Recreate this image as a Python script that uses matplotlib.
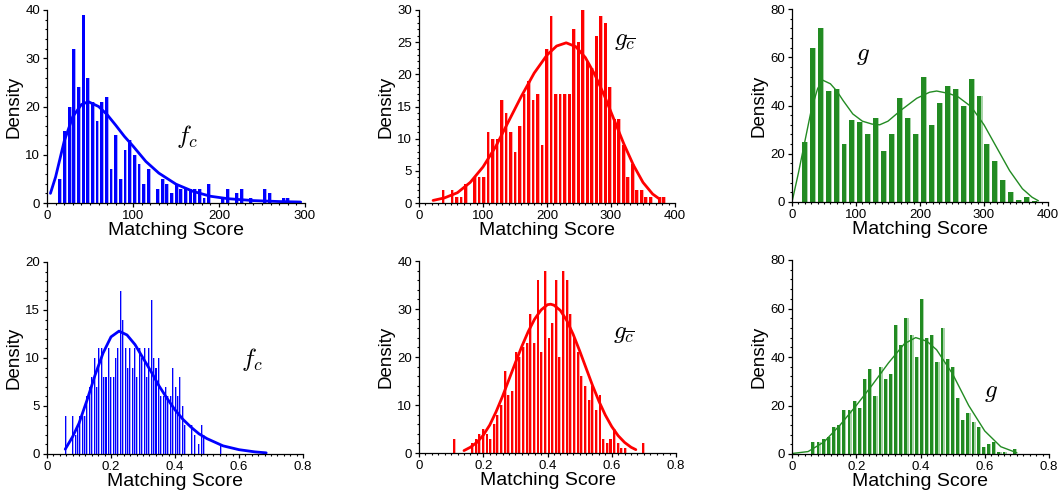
import numpy as np
import matplotlib.pyplot as plt
from matplotlib.ticker import MultipleLocator

plt.rcParams["font.family"] = ["Liberation Sans", "DejaVu Sans"]
plt.rcParams["mathtext.fontset"] = "cm"

# --- top row: raw matching scores -------------------------------------
# histogram counts, bins given as (first edge, bin width)
fc_raw_bin0, fc_raw_binw = 12.8, 5.41
fc_raw_counts = [5, 15, 20, 32, 24, 39, 26, 21, 17, 21,
                 22, 7, 14, 5, 11, 13, 10, 8, 4, 7,
                 0, 3, 5, 4, 2, 4, 3, 3, 3, 3,
                 3, 1, 4, 0, 0, 1, 3, 0, 2, 3,
                 0, 1, 0, 0, 3, 2, 0, 0, 1, 1]
fc_raw_fit_x = [4, 10, 20, 30, 40, 48, 60, 70, 80, 90, 100, 115, 130, 150,
                170, 190, 210, 240, 270, 295]
fc_raw_fit_y = [2.0, 5.4, 12.8, 17.9, 20.4, 21.0, 20.0, 18.3, 16.1, 13.8,
                11.8, 8.6, 6.2, 3.9, 2.4, 1.4, 0.9, 0.5, 0.3, 0.2]

gc_raw_bin0, gc_raw_binw = 34.5, 7.046
gc_raw_counts = [2, 0, 2, 1, 1, 3, 0, 4, 4, 4,
                 11, 10, 10, 16, 14, 11, 8, 12, 17, 19,
                 16, 17, 9, 24, 29, 17, 17, 17, 17, 27,
                 25, 30, 22, 21, 26, 29, 28, 18, 13, 13,
                 9, 4, 6, 2, 2, 1, 1, 0, 1, 1]
gc_raw_fit_x = [22, 40, 60, 80, 100, 120, 140, 160, 180, 200, 215, 230,
                245, 260, 275, 290, 305, 320, 335, 350, 365, 376]
gc_raw_fit_y = [0.4, 0.8, 1.6, 3.2, 5.6, 8.8, 12.7, 16.6, 20.2, 23.0, 24.4,
                24.9, 24.3, 22.6, 19.9, 16.6, 12.9, 9.2, 5.9, 3.2, 1.4, 0.6]

g_raw_bin0, g_raw_binw = 14.1, 12.41
g_raw_counts = [25, 64, 72, 46, 47, 24, 34, 33, 28, 35,
                21, 28, 43, 35, 28, 52, 32, 41, 48, 47,
                40, 51, 44, 24, 17, 9, 4, 1, 2, 0.5]
g_raw_fit_x = [0, 10, 20, 30, 40, 48, 60, 70, 80, 95, 110, 125, 137, 150,
               170, 195, 215, 226, 245, 260, 280, 300, 320, 340, 360, 375, 385]
g_raw_fit_y = [0, 12, 25, 38, 47, 50.5, 49, 46, 42, 36.5, 33.5, 32.3, 32,
               33.5, 38, 43, 45.5, 46, 45, 43.5, 39.5, 32, 22.5, 13, 5.5, 2, 0.5]

# --- bottom row: normalised matching scores ----------------------------
fc_norm_bin0, fc_norm_binw = 0.0555, 0.00744
fc_norm_counts = [4, 0, 0, 4, 2, 3, 4, 4, 4, 6,
                  7, 8, 10, 7, 11, 11, 8, 8, 11, 8,
                  8, 10, 11, 17, 14, 11, 9, 11, 9, 11,
                  8, 11, 10, 11, 8, 11, 16, 10, 9, 10,
                  6, 6, 7, 6, 6, 9, 7, 6, 8, 5,
                  3, 0, 0, 3, 2, 0, 1, 3, 2, 0,
                  0, 0, 0, 0, 0, 1]
fc_norm_fit_x = [0.057, 0.08, 0.1, 0.125, 0.15, 0.175, 0.2, 0.225, 0.25,
                 0.275, 0.3, 0.325, 0.35, 0.375, 0.4, 0.425, 0.45, 0.475,
                 0.5, 0.55, 0.6, 0.65, 0.685]
fc_norm_fit_y = [0.5, 1.8, 3.2, 5.6, 8.2, 10.5, 12.2, 12.8, 12.4, 11.4, 10.0,
                 8.6, 7.1, 5.8, 4.6, 3.6, 2.8, 2.1, 1.6, 0.85, 0.45, 0.22, 0.12]

gc_norm_bin0, gc_norm_binw = 0.1038, 0.01135
gc_norm_counts = [3, 0, 0, 0, 0, 2, 3, 4, 5, 4,
                  3, 6, 8, 10, 17, 12, 13, 21, 20, 22,
                  23, 29, 23, 36, 21, 38, 24, 27, 36, 20,
                  38, 36, 29, 24, 21, 16, 14, 11, 14, 9,
                  12, 3, 2, 3, 5, 2, 1, 1, 0, 0,
                  0, 0, 2]
gc_norm_fit_x = [0.14, 0.16, 0.18, 0.2, 0.22, 0.24, 0.26, 0.28, 0.3, 0.32,
                 0.34, 0.36, 0.38, 0.4, 0.41, 0.42, 0.44, 0.46, 0.48, 0.5,
                 0.52, 0.54, 0.56, 0.58, 0.6, 0.62, 0.64, 0.66, 0.675]
gc_norm_fit_y = [0.5, 1.2, 2.2, 3.7, 5.8, 8.6, 11.8, 15.3, 18.8, 22.2, 25.3,
                 27.9, 29.8, 30.9, 31.0, 30.8, 29.7, 27.6, 24.7, 21.3, 17.7,
                 14.1, 10.8, 7.9, 5.5, 3.6, 2.2, 1.2, 0.7]

g_norm_bin0, g_norm_binw = 0.0586, 0.01609
g_norm_counts = [5, 5, 6, 7, 11, 12, 18, 18, 22, 19,
                 31, 35, 24, 36, 31, 33, 53, 45, 56, 49,
                 40, 64, 48, 49, 38, 52, 39, 36, 23, 14,
                 17, 13, 11, 3, 4, 5, 1, 1, 0, 2]
g_norm_fit_x = [0.0, 0.05, 0.1, 0.15, 0.2, 0.25, 0.3, 0.35, 0.385, 0.42,
                0.45, 0.5, 0.55, 0.6, 0.65, 0.7]
g_norm_fit_y = [0.2, 1.0, 5.0, 12.0, 20.0, 28.5, 37.5, 45.5, 48.0, 46.5,
                43.0, 33.0, 20.0, 9.5, 3.0, 0.5]

# dark colour for the bar body / fitted curve, light tint for the bar edge
BLUE, BLUE_LT = "#0000ff", "#a8a8ff"
RED, RED_LT = "#ff0000", "#ffa8a8"
GREEN, GREEN_LT = "#228b22", "#a8d4a8"


def draw_panel(ax, bin0, binw, counts, fit_x, fit_y, colors, fracs, lw,
               xmax, xmajor, ymax, ymajor, label, label_xy):
    dark, light = colors
    left = bin0 + binw * np.arange(len(counts)) + binw * 0.1
    # light strip first, dark body on top -> two-tone bars as in the original
    ax.bar(left, counts, width=binw * fracs[1], color=light, align="edge",
           linewidth=0)
    ax.bar(left, counts, width=binw * fracs[0], color=dark, align="edge",
           linewidth=0)
    ax.plot(fit_x, fit_y, color=dark, lw=lw, solid_capstyle="round")
    ax.set_xlim(0, xmax)
    ax.set_ylim(0, ymax)
    ax.xaxis.set_major_locator(MultipleLocator(xmajor))
    ax.xaxis.set_minor_locator(MultipleLocator(xmajor / 10))
    ax.yaxis.set_major_locator(MultipleLocator(ymajor))
    ax.yaxis.set_minor_locator(MultipleLocator(ymajor / 5))
    for s in ("top", "right"):
        ax.spines[s].set_visible(False)
    for s in ("left", "bottom"):
        ax.spines[s].set_linewidth(0.9)
    ax.tick_params(which="major", length=3, width=0.9, labelsize=9.5, pad=2)
    ax.tick_params(which="minor", length=1.5, width=0.8)
    ax.set_xlabel("Matching Score", fontsize=14, labelpad=0)
    ax.set_ylabel("Density", fontsize=13.5, labelpad=2)
    ax.text(label_xy[0], label_xy[1], label, fontsize=18, ha="center",
            va="center")


fig = plt.figure(figsize=(10.61, 4.91), dpi=100)
W, H = 1061, 491


def add_axes(x0, x1, ytop, ybot):
    return fig.add_axes([x0 / W, 1 - ybot / H, (x1 - x0) / W, (ybot - ytop) / H])


ax1 = add_axes(47, 305, 10, 203)
ax2 = add_axes(419, 675, 10, 203)
ax3 = add_axes(792, 1048, 9, 202)
ax4 = add_axes(47, 303, 262, 454)
ax5 = add_axes(419, 676, 261, 453)
ax6 = add_axes(792, 1049, 260, 454)

draw_panel(ax1, fc_raw_bin0, fc_raw_binw, fc_raw_counts, fc_raw_fit_x,
           fc_raw_fit_y, (BLUE, BLUE_LT), (0.6, 0.8), 2.0, 300, 100, 40, 10,
           r"$f_c$", (163, 13.7))
draw_panel(ax2, gc_raw_bin0, gc_raw_binw, gc_raw_counts, gc_raw_fit_x,
           gc_raw_fit_y, (RED, RED_LT), (0.6, 0.8), 2.0, 400, 100, 30, 5,
           r"$g_{\overline{c}}$", (322, 25.3))
draw_panel(ax3, g_raw_bin0, g_raw_binw, g_raw_counts, g_raw_fit_x,
           g_raw_fit_y, (GREEN, GREEN_LT), (0.62, 0.75), 1.0, 400, 100, 80, 20,
           r"$g$", (111, 61))
draw_panel(ax4, fc_norm_bin0, fc_norm_binw, fc_norm_counts, fc_norm_fit_x,
           fc_norm_fit_y, (BLUE, BLUE_LT), (0.45, 0.85), 2.0, 0.8, 0.2, 20, 5,
           r"$f_c$", (0.639, 9.8))
draw_panel(ax5, gc_norm_bin0, gc_norm_binw, gc_norm_counts, gc_norm_fit_x,
           gc_norm_fit_y, (RED, RED_LT), (0.55, 0.8), 2.0, 0.8, 0.2, 40, 10,
           r"$g_{\overline{c}}$", (0.638, 24.9))
draw_panel(ax6, g_norm_bin0, g_norm_binw, g_norm_counts, g_norm_fit_x,
           g_norm_fit_y, (GREEN, GREEN_LT), (0.55, 0.8), 1.0, 0.8, 0.2, 80, 20,
           r"$g$", (0.618, 25.7))

for ax in (ax4, ax5, ax6):
    ax.xaxis.set_major_formatter(plt.FuncFormatter(lambda v, p: f"{v:g}"))

fig.savefig("out.png", dpi=100)
